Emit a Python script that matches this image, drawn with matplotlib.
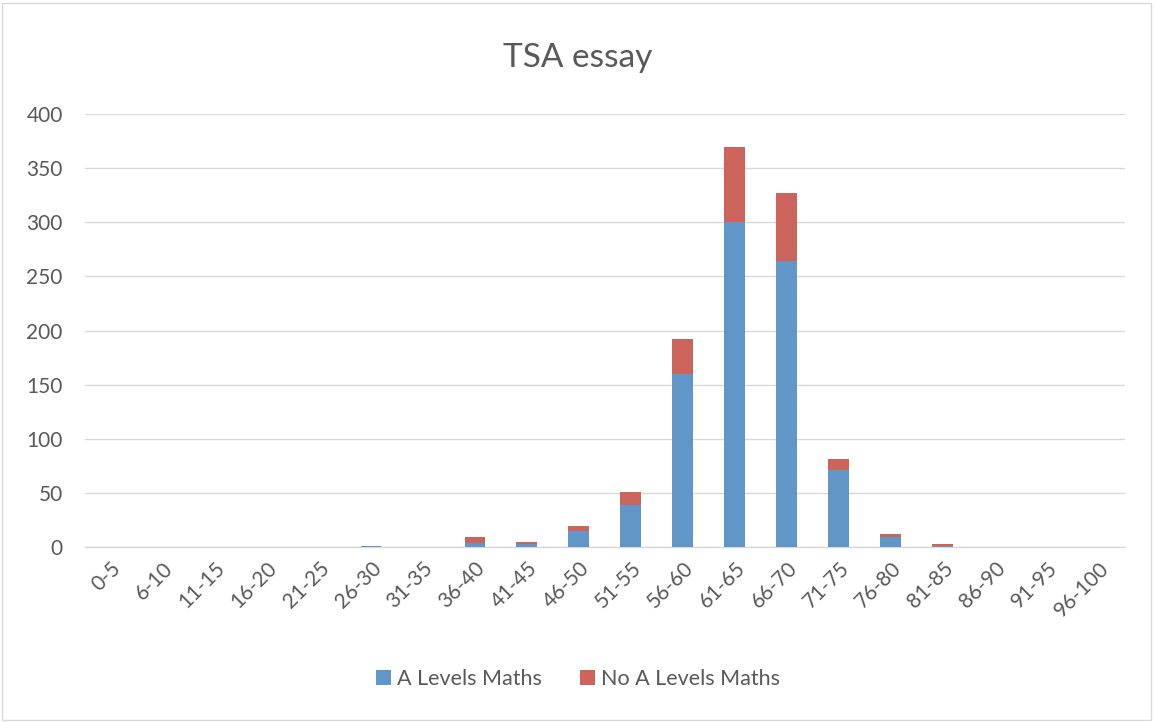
import numpy as np
import matplotlib.pyplot as plt
from matplotlib.patches import Rectangle

plt.rcParams['font.family'] = ['Lato', 'DejaVu Sans']

categories = ['0-5', '6-10', '11-15', '16-20', '21-25', '26-30', '31-35', '36-40',
              '41-45', '46-50', '51-55', '56-60', '61-65', '66-70', '71-75',
              '76-80', '81-85', '86-90', '91-95', '96-100']
a_levels = [0, 0, 0, 0, 0, 1, 0, 4, 3, 15, 39, 160, 300, 264, 71, 9, 1, 0, 0, 0]
no_a_levels = [0, 0, 0, 0, 0, 0, 0, 5, 2, 4, 12, 32, 70, 63, 10, 3, 2, 0, 0, 0]

blue = '#6096C8'
red = '#CD645C'
grey = '#595959'

fig = plt.figure(figsize=(11.56, 7.22), dpi=100)
ax = fig.add_axes([0.0735, 0.2424, 0.8995, 0.5996])

x = np.arange(len(categories))
ax.bar(x, a_levels, width=0.4, color=blue, label='A Levels Maths', zorder=3)
ax.bar(x, no_a_levels, width=0.4, bottom=a_levels, color=red,
       label='No A Levels Maths', zorder=3)

ax.set_xlim(-0.5, len(categories) - 0.5)
ax.set_ylim(0, 400)
ax.set_yticks(range(0, 401, 50))
ax.set_xticks(x)
ax.set_xticklabels(categories, rotation=45, ha='right', rotation_mode='anchor')
ax.tick_params(axis='both', length=0, labelsize=15, colors=grey)
ax.tick_params(axis='x', pad=8)
ax.tick_params(axis='y', pad=16)

ax.grid(axis='y', color='#D9D9D9', linewidth=1, zorder=0)
for side in ['top', 'right', 'left']:
    ax.spines[side].set_visible(False)
ax.spines['bottom'].set_color('#D9D9D9')
ax.spines['bottom'].set_linewidth(1)

fig.text(0.5, 0.92, 'TSA essay', ha='center', va='center', fontsize=24, color=grey)

fig.legend(loc='center', bbox_to_anchor=(0.5, 0.06), ncol=2, frameon=False,
           fontsize=15.5, handlelength=0.7, handleheight=0.7, columnspacing=1.8,
           handletextpad=0.25, labelcolor=grey)

fig.patches.append(Rectangle((0.002, 0.003), 0.994, 0.993, transform=fig.transFigure,
                             fill=False, edgecolor='#D9D9D9', linewidth=1))

fig.savefig('out.png', dpi=100)
